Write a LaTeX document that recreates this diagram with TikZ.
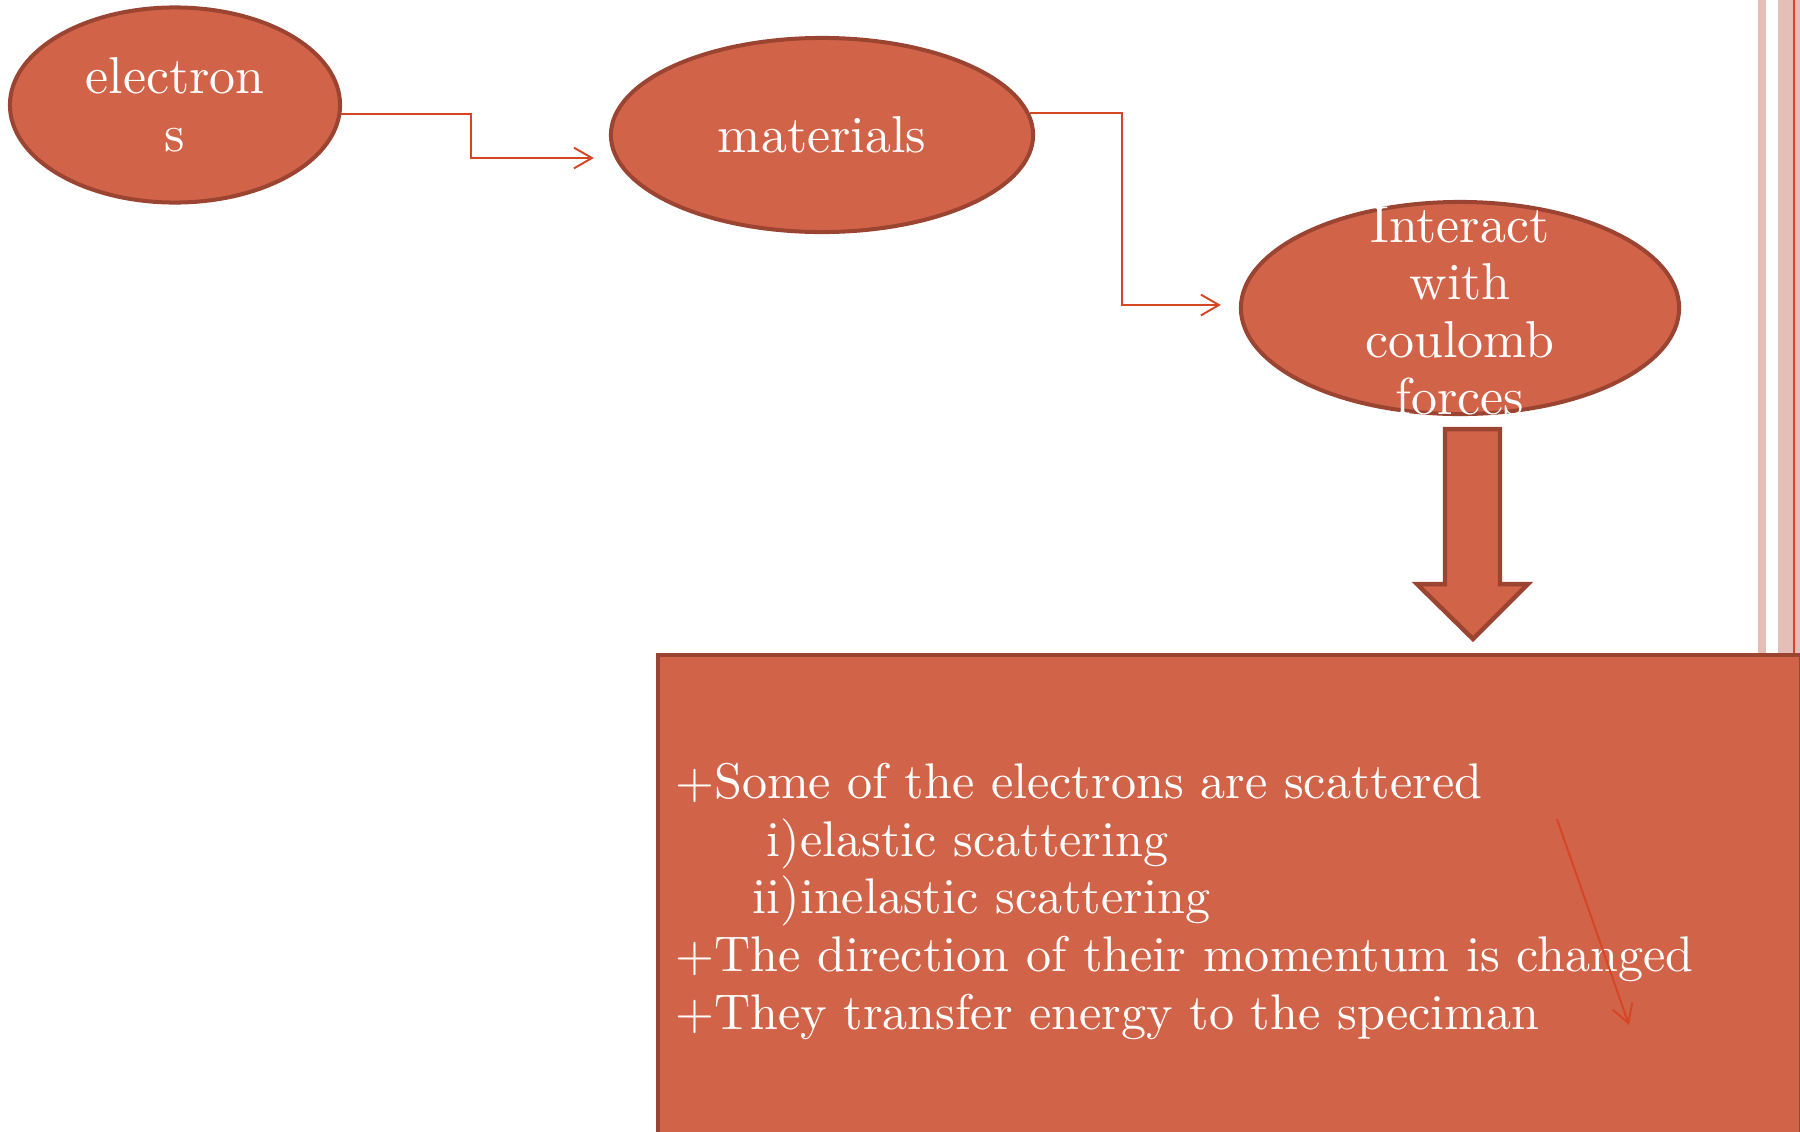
\documentclass[tikz,border=0pt]{standalone}
\usepackage{fontspec}
\setmainfont{lmroman10-regular.otf}
\usepackage{tikz}
\usetikzlibrary{shapes.geometric}
\usetikzlibrary{positioning}
\usetikzlibrary{arrows.meta}

\definecolor{oriel}{RGB}{209,99,73}
\definecolor{orieldark}{RGB}{155,68,50}
\definecolor{linkred}{RGB}{214,70,36}
\definecolor{stripe}{RGB}{230,190,184}

\begin{document}
\begin{tikzpicture}[x=0.01in,y=-0.01in,>={Straight Barb[length=13pt,width=15pt]},
	main node/.style={ellipse,draw=orieldark,fill=oriel,line width=2.9pt,inner sep=0pt,
		text=white,align=center,font=\fontsize{37.5}{41.6}\selectfont},
	txt/.style={text=white,inner sep=0pt,font=\fontsize{37.5}{41.6}\selectfont},
	link/.style={draw=linkred,line width=1.4pt,->},
	big arrow/.style={draw=orieldark,fill=oriel,line width=3.2pt},
	result box/.style={rectangle,draw=orieldark,fill=oriel,line width=2.9pt}]
	
	\clip (0,0) rectangle (1800,1131);
	
	% side stripes
	\fill[stripe] (1758,0) rectangle (1766,1131);
	\fill[stripe] (1778,0) rectangle (1800,1131);
	\fill[linkred] (1793,0) rectangle (1795,1131);
	
	\node[main node,minimum width=3.30in,minimum height=1.95in] (elec) at (175,105) {electron\\s};
	\node[main node,minimum width=4.22in,minimum height=1.94in] (mat) at (822,135) {materials};
	\node[main node,minimum width=4.38in,minimum height=2.12in] (inter) at (1460,308) {};
	\node[txt,align=center] (intertxt) at ([shift={(0,3)}]inter) {Interact\\with\\coulomb\\forces};
	
	\path[link] (elec.-3) -- ++(130,0) |- ([shift={(-15,23)}]mat.west);
	\path[link] (mat.6) -- ++(92,0) |- ([shift={(-18,-3)}]inter.west);
	
	\draw[big arrow] ([shift={(-15,13)}]inter.south) -- ++(55,0) -- ++(0,155) -- ++(28,0)
		-- ++(-55,55) -- ++(-56,-55) -- ++(28,0) -- cycle;
	
	\node[result box,anchor=north west,minimum width=11.42in,minimum height=6in] (res) at (656,653) {};
	\node[txt,align=left,anchor=north west,font=\fontsize{36.2}{41.6}\selectfont] (restxt) at (675,763)
		{+Some of the electrons are scattered\\
		\hspace*{66pt}i)elastic scattering\\
		\hspace*{56pt}ii)inelastic scattering\\
		+The direction of their momentum is changed\\
		+They transfer energy to the speciman};
	
	\coordinate (s1) at (1557,819);
	\coordinate (s2) at (1629,1025);
	\path[link] (s1) -- (s2);
\end{tikzpicture}
\end{document}
